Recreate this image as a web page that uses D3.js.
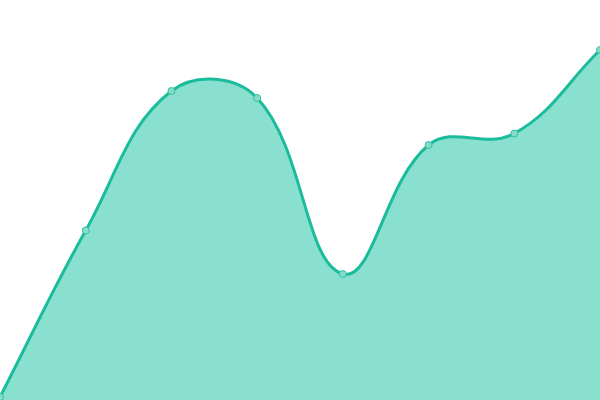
<!DOCTYPE html>
<html>
<head>
<meta charset="utf-8">
<script src="https://cdn.jsdelivr.net/npm/d3@7"></script>
<style>
  html, body { margin: 0; padding: 0; background: #fff; }
  svg { display: block; }
</style>
</head>
<body>
<div id="chart"></div>
<script>
const WIDTH = 600;
const HEIGHT = 400;

// data
const labels = ["1", "2", "3", "4", "5", "6", "7", "8"];
const values = [3, 169.5, 309, 302, 126, 255, 266.5, 350];

const TENSION = 0.4;

// spline where the control handles scale with the segment lengths
function splineCurve(context) {
    return {
        areaStart() { this._line = 0; },
        areaEnd() { this._line = NaN; },
        lineStart() { this._x = []; this._y = []; },
        point(px, py) { this._x.push(+px); this._y.push(+py); },
        lineEnd() {
            const xs = this._x, ys = this._y, n = xs.length;
            if (n) {
                this._line ? context.lineTo(xs[0], ys[0]) : context.moveTo(xs[0], ys[0]);
                const cps = [];
                for (let i = 0; i < n; i++) {
                    const p = i > 0 ? i - 1 : i, q = i < n - 1 ? i + 1 : i;
                    const d01 = Math.hypot(xs[i] - xs[p], ys[i] - ys[p]);
                    const d12 = Math.hypot(xs[q] - xs[i], ys[q] - ys[i]);
                    const s = d01 + d12;
                    const fa = s ? TENSION * d01 / s : 0;
                    const fb = s ? TENSION * d12 / s : 0;
                    const dx = xs[q] - xs[p], dy = ys[q] - ys[p];
                    const clampX = v => Math.max(0, Math.min(WIDTH, v));
                    const clampY = v => Math.max(0, Math.min(HEIGHT, v));
                    cps.push({
                        px: clampX(xs[i] - fa * dx), py: clampY(ys[i] - fa * dy),
                        nx: clampX(xs[i] + fb * dx), ny: clampY(ys[i] + fb * dy)
                    });
                }
                for (let i = 1; i < n; i++) {
                    context.bezierCurveTo(cps[i - 1].nx, cps[i - 1].ny, cps[i].px, cps[i].py, xs[i], ys[i]);
                }
            }
            if (this._line || (this._line !== 0 && n === 1)) context.closePath();
            this._line = 1 - this._line;
            this._x = this._y = null;
        }
    };
}

const svg = d3.select("#chart").append("svg")
    .attr("width", WIDTH)
    .attr("height", HEIGHT);

const x = d3.scalePoint()
    .domain(labels)
    .range([0, WIDTH]);

const y = d3.scaleLinear()
    .domain([0, 400])
    .range([HEIGHT, 0]);

const data = labels.map((l, i) => ({ key: l, value: values[i] }));

const area = d3.area()
    .x(d => x(d.key))
    .y0(HEIGHT)
    .y1(d => y(d.value))
    .curve(splineCurve);

const line = d3.line()
    .x(d => x(d.key))
    .y(d => y(d.value))
    .curve(splineCurve);

svg.append("path")
    .datum(data)
    .attr("fill", "#8ae0ce")
    .attr("d", area);

svg.append("path")
    .datum(data)
    .attr("fill", "none")
    .attr("stroke", "#1abc9c")
    .attr("stroke-width", 3)
    .attr("d", line);

svg.selectAll(".dot")
    .data(data)
    .enter()
    .append("circle")
    .attr("class", "dot")
    .attr("cx", d => x(d.key))
    .attr("cy", d => y(d.value))
    .attr("r", 3.5)
    .attr("fill", "#86dcc8")
    .attr("stroke", "#2ec4a3")
    .attr("stroke-width", 1);
</script>
</body>
</html>
